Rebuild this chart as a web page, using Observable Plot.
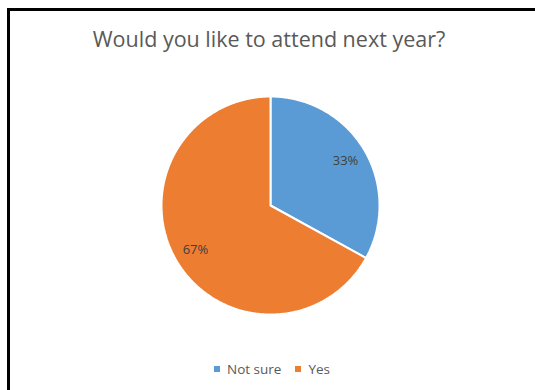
<!DOCTYPE html>
<html>
<head>
<meta charset="utf-8">
<script src="https://cdn.jsdelivr.net/npm/d3@7"></script>
<script src="https://cdn.jsdelivr.net/npm/@observablehq/plot@0.6"></script>
<style>
  html, body { margin: 0; padding: 0; background: #fff; overflow: hidden; width: 535px; height: 390px; }
  #frame { position: absolute; left: 7px; top: 8px; width: 620px; height: 480px; border: 3px solid #000; box-sizing: border-box; background: #fff; }
  #title { position: absolute; left: 0; width: 535px; top: 28px; line-height: 1; text-align: center; font-family: "Open Sans", sans-serif; font-size: 21.5px; color: #595959; padding-left: 3px; box-sizing: border-box; }
  #chart { position: absolute; }
  #legend { position: absolute; left: 214px; top: 361px; display: flex; align-items: center; font-family: "Open Sans", sans-serif; font-size: 13.5px; line-height: 16px; color: #595959; white-space: nowrap; }
  #legend span.item { display: flex; align-items: center; margin-right: 14px; }
  #legend span.sw { display: inline-block; width: 6px; height: 6px; margin-right: 7px; }
</style>
</head>
<body>
<div id="frame"></div>
<div id="title">Would you like to attend next year?</div>
<div id="chart"></div>
<div id="legend"></div>
<script>
const categories = ["Not sure", "Yes"];
const values = [33, 67];
const labels = ["33%", "67%"];
const colors = ["#5B9BD5", "#ED7D31"];

const pie = d3.pie().sort(null).value(d => d.value)(categories.map((c, i) => ({cat: c, value: values[i], label: labels[i]})));

// Build slice outlines (center -> arc -> center) in unit coordinates
const pts = [];
const labelPts = [];
for (const s of pie) {
  const n = Math.max(2, Math.ceil((s.endAngle - s.startAngle) / (Math.PI / 360)));
  pts.push({cat: s.data.cat, x: 0, y: 0});
  for (let k = 0; k <= n; k++) {
    const a = s.startAngle + (s.endAngle - s.startAngle) * k / n;
    pts.push({cat: s.data.cat, x: Math.sin(a), y: Math.cos(a)});
  }
  pts.push({cat: s.data.cat, x: 0, y: 0});
  const m = (s.startAngle + s.endAngle) / 2;
  labelPts.push({cat: s.data.cat, label: s.data.label, x: 0.8 * Math.sin(m), y: 0.8 * Math.cos(m)});
}

const R = 109, CX = 269.5, CY = 205, M = 20;
const plot = Plot.plot({
  width: 2 * R + 2 * M,
  height: 2 * R + 2 * M,
  margin: M,
  x: {domain: [-1, 1], axis: null},
  y: {domain: [-1, 1], axis: null},
  color: {domain: categories, range: colors},
  style: {background: "transparent", overflow: "visible"},
  marks: [
    Plot.line(pts, {x: "x", y: "y", z: "cat", fill: "cat", stroke: "white", strokeWidth: 2, strokeLinejoin: "miter"}),
    Plot.text(labelPts, {x: "x", y: "y", text: "label", fill: "#404040", fontSize: 13, fontFamily: "Open Sans, sans-serif"})
  ]
});
const chart = document.getElementById("chart");
chart.style.left = (CX - R - M) + "px";
chart.style.top = (CY - R - M) + "px";
chart.appendChild(plot);

const leg = document.getElementById("legend");
categories.forEach((c, i) => {
  const item = document.createElement("span");
  item.className = "item";
  const sw = document.createElement("span");
  sw.className = "sw";
  sw.style.background = colors[i];
  item.appendChild(sw);
  item.appendChild(document.createTextNode(c));
  leg.appendChild(item);
});
</script>
</body>
</html>
